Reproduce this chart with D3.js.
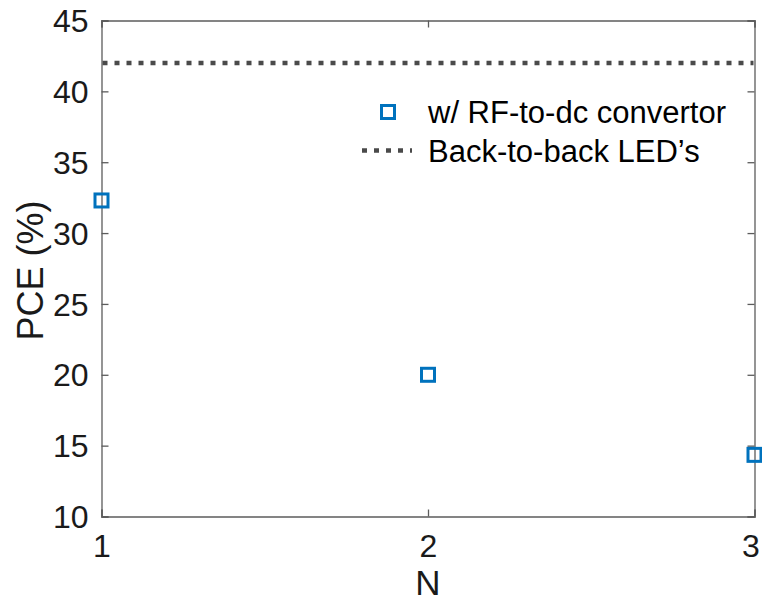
<!DOCTYPE html>
<html>
<head>
<meta charset="utf-8">
<script src="https://cdn.jsdelivr.net/npm/d3@7"></script>
<style>
  html, body { margin: 0; padding: 0; background: #fff; }
  svg { display: block; font-family: "Liberation Sans", Arial, Helvetica, sans-serif; }
</style>
</head>
<body>
<script>
// Power conversion efficiency vs. number of stages
const stages = [1, 2, 3];
const pceConvertor = [32.3, 20.0, 14.35];
const pceBackToBack = 42;
const xTicks = [1, 2, 3];
const yTicks = [10, 15, 20, 25, 30, 35, 40, 45];
const seriesNames = ["w/ RF-to-dc convertor", "Back-to-back LED\u2019s"];

const W = 762, H = 602;
const margin = { left: 101.5, right: 7.5, top: 20.5, bottom: 85.5 };
const blue = "#0072BD";
const dotGray = "#4a4a4a";
const axisGray = "#5c5c5c";

const svg = d3.select("body").append("svg").attr("width", W).attr("height", H);

const x = d3.scaleLinear().domain([1, 3]).range([margin.left, W - margin.right]);
const y = d3.scaleLinear().domain([10, 45]).range([H - margin.bottom, margin.top]);

// Box and inward ticks on all four sides
const tickLen = 7;
const axBottom = svg.append("g").attr("transform", `translate(0,${y(10)})`)
  .call(d3.axisBottom(x).tickValues(xTicks).tickSize(-tickLen).tickPadding(18).tickFormat(d3.format("d")));
const axTop = svg.append("g").attr("transform", `translate(0,${y(45)})`)
  .call(d3.axisTop(x).tickValues(xTicks).tickSize(-tickLen).tickFormat(""));
const axLeft = svg.append("g").attr("transform", `translate(${x(1)},0)`)
  .call(d3.axisLeft(y).tickValues(yTicks).tickSize(-tickLen).tickPadding(13).tickFormat(d3.format("d")));
const axRight = svg.append("g").attr("transform", `translate(${x(3)},0)`)
  .call(d3.axisRight(y).tickValues(yTicks).tickSize(-tickLen).tickFormat(""));

[axBottom, axTop, axLeft, axRight].forEach(g => {
  g.select(".domain").attr("stroke", axisGray).attr("stroke-width", 1.3);
  g.selectAll(".tick line").attr("stroke", axisGray).attr("stroke-width", 1.3);
  g.selectAll(".tick text").attr("fill", "#1a1a1a").attr("font-size", 32)
    .attr("font-family", "'Liberation Sans', Arial, Helvetica, sans-serif");
});
axBottom.selectAll(".tick text").attr("dy", "0.71em");
axBottom.selectAll(".tick text").filter(d => d === 3).attr("dx", -4);
axLeft.selectAll(".tick text").attr("dy", "0.35em");

// Reference level for back-to-back LEDs
svg.append("line")
  .attr("x1", x(1) + 1).attr("x2", x(3) - 1)
  .attr("y1", y(pceBackToBack)).attr("y2", y(pceBackToBack))
  .attr("stroke", dotGray).attr("stroke-width", 4.5)
  .attr("stroke-dasharray", "5,7");

// Square markers for the convertor series
const side = 13;
svg.append("g").selectAll("rect").data(stages.map((s, i) => [s, pceConvertor[i]]))
  .join("rect")
  .attr("x", d => x(d[0]) - side / 2)
  .attr("y", d => y(d[1]) - side / 2)
  .attr("width", side).attr("height", side)
  .attr("fill", "none").attr("stroke", blue).attr("stroke-width", 3);

// Axis titles
svg.append("text").attr("x", x(2)).attr("y", 595)
  .attr("text-anchor", "middle").attr("font-size", 35).attr("fill", "#1a1a1a").text("N");
svg.append("text")
  .attr("transform", `translate(43,${(y(10) + y(45)) / 2 + 2}) rotate(-90)`)
  .attr("text-anchor", "middle").attr("font-size", 36).attr("fill", "#1a1a1a").text("PCE (%)");

// Legend
const lg = svg.append("g");
lg.append("rect").attr("x", 388 - side / 2).attr("y", 112 - side / 2)
  .attr("width", side).attr("height", side)
  .attr("fill", "none").attr("stroke", blue).attr("stroke-width", 3);
lg.append("line").attr("x1", 362).attr("x2", 412).attr("y1", 150.5).attr("y2", 150.5)
  .attr("stroke", dotGray).attr("stroke-width", 4.5).attr("stroke-dasharray", "5,7");
lg.selectAll("text").data(seriesNames).join("text")
  .attr("x", 428).attr("y", (d, i) => 112 + i * 38.5)
  .attr("dy", "0.36em").attr("font-size", 31).attr("fill", "#000")
  .text(d => d);
</script>
</body>
</html>
